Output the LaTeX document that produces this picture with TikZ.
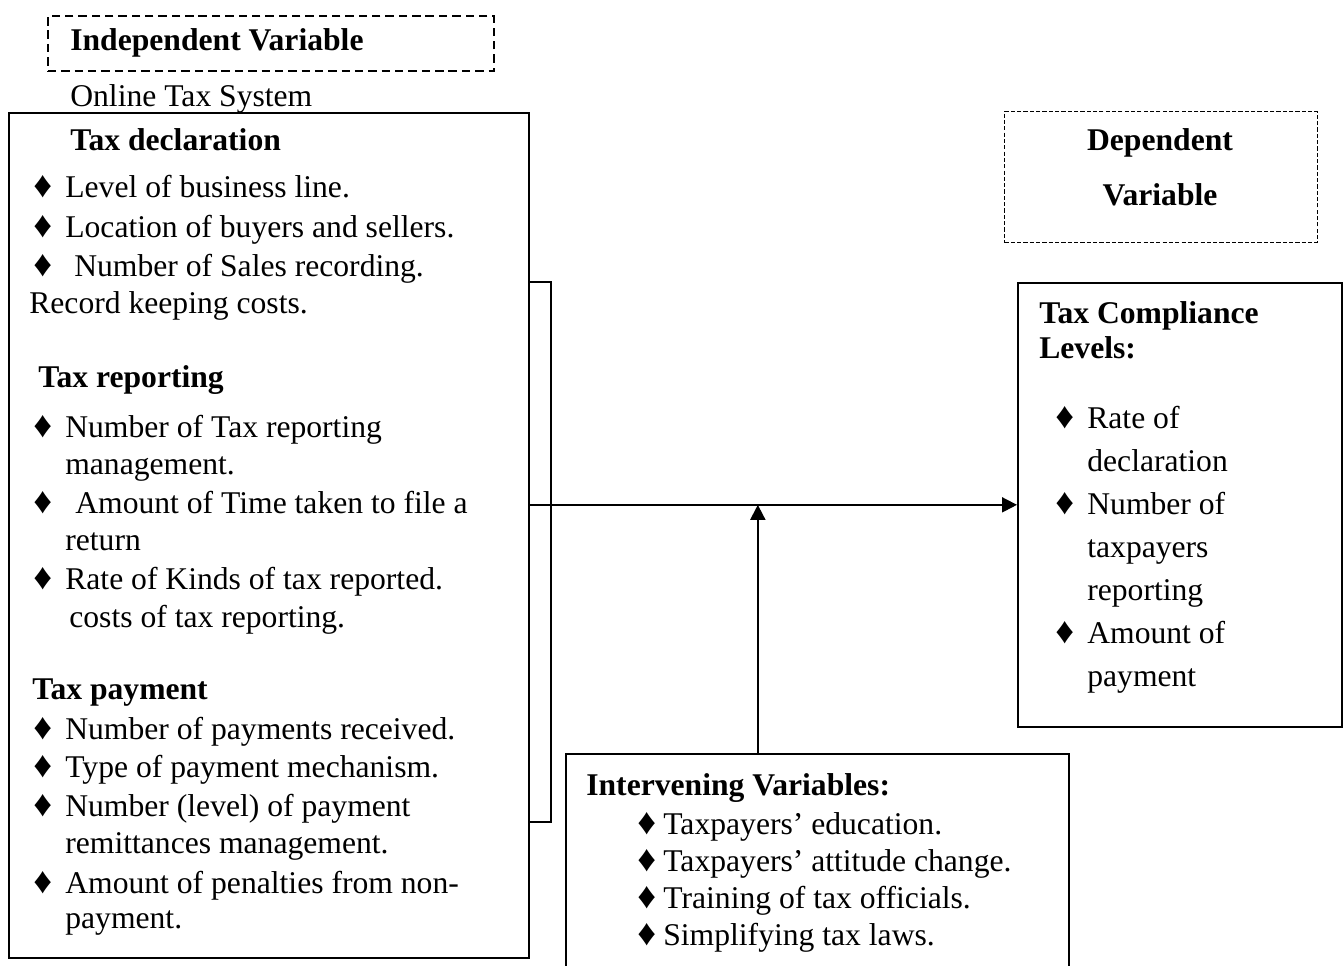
\documentclass[tikz,border=0pt]{standalone}
\usepackage{fontspec}
\setmainfont{Liberation Serif}
\usetikzlibrary{positioning,arrows.meta}
\tikzset{>={Triangle[length=0.3cm,width=0.3cm]}}
\tikzset{
  txt/.style={anchor=base west, inner sep=0pt, font=\fontsize{18}{22}\selectfont},
  headtxt/.style={txt, font=\fontsize{18}{22}\selectfont\bfseries},
  bul/.style={anchor=base west, inner sep=0pt, font=\fontsize{21}{22}\selectfont},
  box/.style={draw, line width=1pt, anchor=north west, inner sep=0pt},
  varbox/.style={box, dash pattern=on 4.8pt off 2.8pt},
  link/.style={line width=1.1pt},
}

\begin{document}
\begin{tikzpicture}[x=0.02cm, y=-0.02cm]
    \useasboundingbox (0,0) rectangle (1343,965);

    % the boxes
    \node (indep)[varbox, minimum width=8.92cm, minimum height=1.1cm] at (47,15) {};
    \node (main)[box, minimum width=10.4cm, minimum height=16.9cm] at (8,112) {};
    \node (dep)[varbox, line width=0.5pt, dash pattern=on 2.4pt off 1.2pt, minimum width=6.26cm, minimum height=2.62cm] at (1004,111) {};
    \node (comp)[box, minimum width=6.48cm, minimum height=8.88cm] at (1017,282) {};
    \node (interv)[box, minimum width=10.06cm, minimum height=5cm] at (565,753) {};

    % independent variable
    \node (indepHead)[headtxt] at (70,50) {Independent Variable};
    \node (online)[txt] at (70,106) {Online Tax System};

    \foreach \x/\y/\t [count=\n] in {70/150/Tax declaration, 38/387/Tax reporting, 32/699/Tax payment}{
        \node (mainHead\n)[headtxt] at (\x,\y) {\t};
    };
    \foreach \x/\y/\t [count=\n] in {
        65/197/{Level of business line.},
        65/237/{Location of buyers and sellers.},
        74/276/{Number of Sales recording.},
        29/313/{Record keeping costs.},
        65/437/{Number of Tax reporting},
        65/474/{management.},
        75/513/{Amount of Time taken to file a},
        65/550/{return},
        65/589/{Rate of Kinds of tax reported.},
        69/627/{costs of tax reporting.},
        65/739/{Number of payments received.},
        65/777/{Type of payment mechanism.},
        65/816/{Number (level) of payment},
        65/853/{remittances management.},
        65/893/{Amount of penalties from non-},
        65/928/{payment.}}{
        \node (mainLine\n)[txt] at (\x,\y) {\t};
    };
    \foreach \y [count=\n] in {197,237,276,437,513,589,739,777,816,893}{
        \node (mainBul\n)[bul] at (33,\y) {♦};
    };

    % dependent variable
    \node (depHead1)[headtxt, anchor=base] at (1160,150) {Dependent};
    \node (depHead2)[headtxt, anchor=base] at (1160,205) {Variable};

    \node (compHead1)[headtxt] at (1039,323) {Tax Compliance};
    \node (compHead2)[headtxt] at (1039,358) {Levels:};
    \foreach \y/\t [count=\n] in {428/Rate of, 471/declaration, 514/Number of, 557/taxpayers, 600/reporting, 643/Amount of, 686/payment}{
        \node (compLine\n)[txt] at (1087,\y) {\t};
    };
    \foreach \y [count=\n] in {428,514,643}{
        \node (compBul\n)[bul] at (1055,\y) {♦};
    };

    % intervening variables
    \node (intervHead)[headtxt] at (586,795) {Intervening Variables:};
    \foreach \y/\t [count=\n] in {834/{Taxpayers’ education.}, 871/{Taxpayers’ attitude change.}, 908/{Training of tax officials.}, 945/{Simplifying tax laws.}}{
        \node (intervLine\n)[txt] at (663,\y) {\t};
        \node (intervBul\n)[bul] at (637,\y) {♦};
    };

    % connectors
    \coordinate (brTop) at (551,282);
    \coordinate (brBot) at (551,822);
    \draw [link] (brTop -| main.east) -- (brTop) -- (brBot) -- (brBot -| main.east);
    \draw [link, ->] (comp.west -| main.east) -- (comp.west);
    \draw [link, ->] ([xshift=-1.19cm]interv.north) -- ([xshift=-1.19cm]interv.north |- comp.west);

\end{tikzpicture}
\end{document}
